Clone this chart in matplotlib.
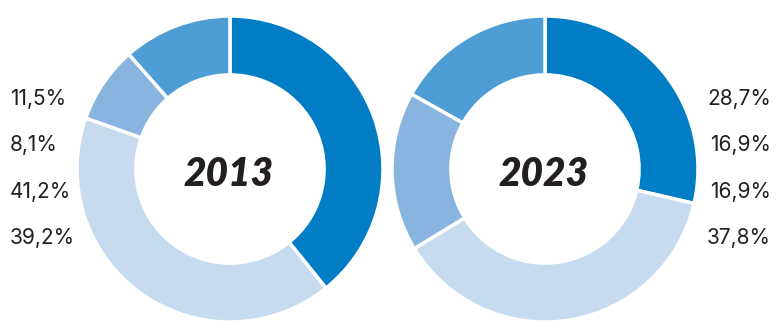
import matplotlib.pyplot as plt

# slice order: clockwise from 12 o'clock
years = ["2013", "2023"]
shares_2013 = [39.2, 41.2, 8.1, 11.5]
shares_2023 = [28.7, 37.8, 16.9, 16.9]
labels_2013 = ["11,5%", "8,1%", "41,2%", "39,2%"]
labels_2023 = ["28,7%", "16,9%", "16,9%", "37,8%"]

colors_2013 = ["#007dc5", "#c6dbf0", "#88b4df", "#4f9dd5"]
colors_2023 = ["#007dc5", "#c6dbf0", "#88b4df", "#4f9dd5"]

W, H = 783, 332
fig = plt.figure(figsize=(W / 100, H / 100), dpi=100)
ax = fig.add_axes([0, 0, 1, 1])

R = 153
for cx, vals, cols in [(230, shares_2013, colors_2013), (545, shares_2023, colors_2023)]:
    ax.pie(vals, colors=cols, startangle=90, counterclock=False,
           center=(cx, H - 169), radius=R,
           wedgeprops=dict(width=R * 0.385, edgecolor="white", linewidth=2.5))

txt = "#231f20"
ax.text(229, H - 174, years[0], ha="center", va="center", fontsize=28,
        family="Lato", weight="heavy", style="italic", color=txt)
ax.text(544, H - 174, years[1], ha="center", va="center", fontsize=28,
        family="Lato", weight="heavy", style="italic", color=txt)

ys = [99, 145, 192, 238]
for y, lab in zip(ys, labels_2013):
    ax.text(10, H - y, lab, ha="left", va="center", fontsize=15, family="Inter", color=txt)
for y, lab in zip(ys, labels_2023):
    ax.text(771, H - y, lab, ha="right", va="center", fontsize=15, family="Inter", color=txt)

ax.set_xlim(0, W)
ax.set_ylim(0, H)
ax.set_aspect("equal")
ax.axis("off")

fig.savefig("out.png", dpi=100)
